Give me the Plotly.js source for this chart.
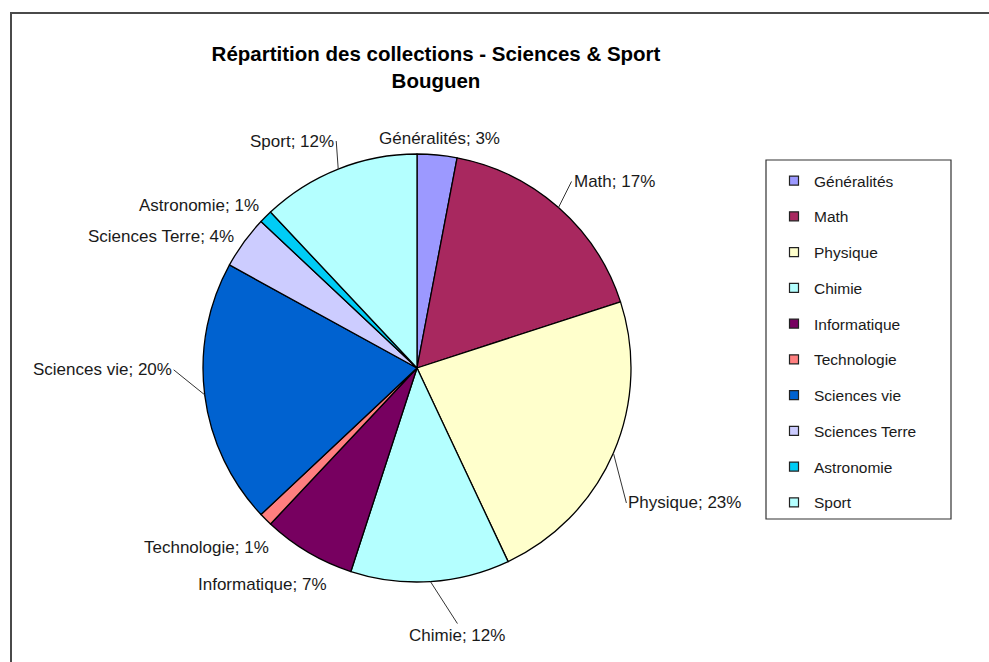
<!DOCTYPE html>
<html>
<head>
<meta charset="utf-8">
<script src="https://cdn.plot.ly/plotly-3.0.1.min.js"></script>
<style>
  html, body { margin: 0; padding: 0; background: #fff; overflow: hidden; }
  #frame { position: absolute; left: 10px; top: 12px; width: 1000px; height: 700px;
           border-left: 2px solid #4a4a4a; border-top: 2px solid #4a4a4a; }
  #chart { position: absolute; left: 0; top: 0; width: 989px; height: 662px; }
</style>
</head>
<body>
<div id="frame"></div>
<div id="chart"></div>
<script>
const categories = ["Généralités", "Math", "Physique", "Chimie", "Informatique",
                    "Technologie", "Sciences vie", "Sciences Terre", "Astronomie", "Sport"];
const shares = [3, 17, 23, 12, 7, 1, 20, 4, 1, 12];
const sliceColors = ["#9c99ff", "#a8285f", "#ffffcc", "#b4ffff", "#770060",
                     "#ff7f7f", "#0062d0", "#ccccff", "#00ccf5", "#b4ffff"];
const titleLines = ["Répartition des collections - Sciences & Sport", "Bouguen"];

// label placement (pixel offsets from the slice edge point, anchors, leader line on/off)
const labelPlacement = [
  { ax: 2,   ay: -5,  xa: "center", ya: "bottom", leader: false },
  { ax: 13,  ay: -26, xa: "left",   ya: "middle", leader: true  },
  { ax: 13,  ay: 50,  xa: "left",   ya: "middle", leader: true  },
  { ax: 27,  ay: 42,  xa: "center", ya: "top",    leader: true  },
  { ax: 21,  ay: 32,  xa: "right",  ya: "middle", leader: false },
  { ax: 5,   ay: 28,  xa: "right",  ya: "middle", leader: false },
  { ax: -31, ay: -25, xa: "right",  ya: "middle", leader: true  },
  { ax: -8,  ay: -6,  xa: "right",  ya: "middle", leader: false },
  { ax: -5,  ay: -11, xa: "right",  ya: "middle", leader: false },
  { ax: -2,  ay: -28, xa: "right",  ya: "middle", leader: true  }
];

const W = 989, H = 662;
const cx = 417, cy = 368, r = 214;
const FONT = "Liberation Sans, Arial, Helvetica, sans-serif";

const pieTrace = {
  type: "pie",
  labels: categories,
  values: shares,
  sort: false,
  direction: "clockwise",
  rotation: 0,
  marker: { colors: sliceColors, line: { color: "#000", width: 1.3 } },
  textinfo: "none",
  hoverinfo: "none",
  showlegend: false,
  domain: { x: [(cx - r) / W, (cx + r) / W], y: [(H - cy - r) / H, (H - cy + r) / H] }
};

// legend entries (one per category, same colours)
const legendTraces = categories.map((c, i) => ({
  type: "scatter", mode: "markers", x: [null], y: [null],
  name: c, legendgroup: "g" + i, showlegend: true,
  marker: { symbol: "square", size: 9, color: sliceColors[i], line: { color: "#222", width: 1.2 } },
  hoverinfo: "none"
}));

// outside labels with leader lines, anchored at each slice's mid-angle edge point
const total = shares.reduce((a, b) => a + b, 0);
let cum = 0;
const annotations = shares.map((v, i) => {
  const mid = (cum + v / 2) / total * 2 * Math.PI;
  cum += v;
  const px = cx + r * Math.sin(mid), py = cy - r * Math.cos(mid);
  const p = labelPlacement[i];
  return {
    xref: "paper", yref: "paper", x: px / W, y: 1 - py / H,
    text: categories[i] + "; " + Math.round(v / total * 100) + "%",
    showarrow: true, arrowhead: 0, arrowwidth: p.leader ? 1 : 0.01,
    arrowcolor: p.leader ? "#333" : "rgba(0,0,0,0)", standoff: 0,
    ax: p.ax, ay: p.ay, xanchor: p.xa, yanchor: p.ya,
    font: { family: FONT, size: 17, color: "#1a1a1a" }
  };
});

const layout = {
  width: W, height: H,
  margin: { l: 0, r: 0, t: 0, b: 0 },
  paper_bgcolor: "rgba(0,0,0,0)",
  plot_bgcolor: "rgba(0,0,0,0)",
  xaxis: { visible: false, range: [0, 1] },
  yaxis: { visible: false, range: [0, 1] },
  title: {
    text: "<b>" + titleLines.join("<br>") + "</b>",
    font: { family: FONT, size: 20.5, color: "#000" },
    x: 436 / W, xanchor: "center", xref: "container",
    y: 1 - 61 / H, yanchor: "middle", yref: "container"
  },
  showlegend: true,
  legend: {
    x: 774 / W, xanchor: "left", y: 1 - 164 / H, yanchor: "top",
    borderwidth: 0, bgcolor: "rgba(0,0,0,0)",
    font: { family: FONT, size: 15.5, color: "#1a1a1a" },
    traceorder: "grouped", tracegroupgap: 12.6
  },
  shapes: [{
    type: "rect", xref: "paper", yref: "paper",
    x0: 766 / W, x1: 951 / W, y0: 1 - 519 / H, y1: 1 - 160 / H,
    line: { color: "#333", width: 1.2 }, fillcolor: "rgba(0,0,0,0)", layer: "below"
  }],
  annotations: annotations
};

Plotly.newPlot("chart", [pieTrace].concat(legendTraces), layout, { displayModeBar: false, staticPlot: true });
</script>
</body>
</html>
